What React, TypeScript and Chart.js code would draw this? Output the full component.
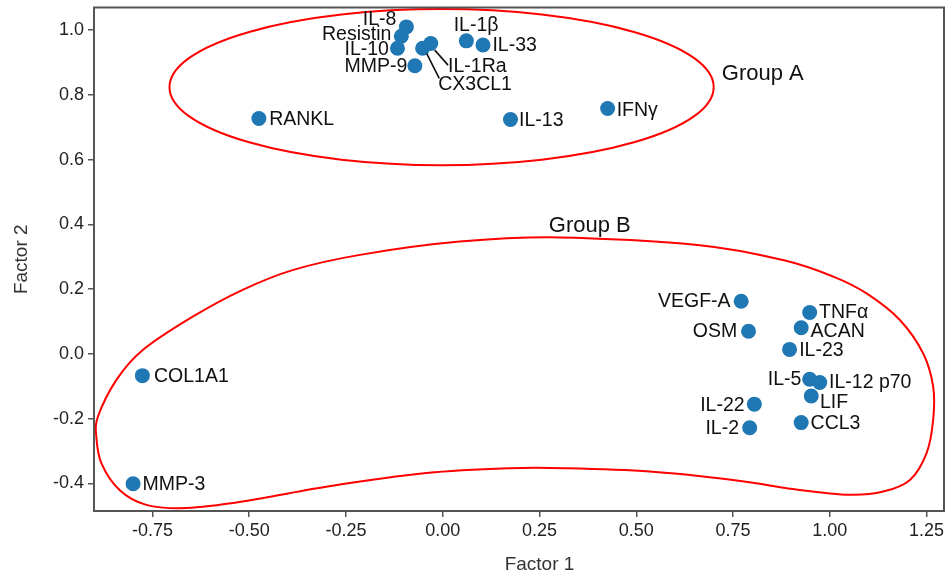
import React, { useEffect, useRef } from "react";
import { Chart, registerables } from "chart.js";
Chart.register(...registerables);

const markerNames = [
  "IL-8", "Resistin", "IL-10", "IL-1Ra", "CX3CL1", "MMP-9", "IL-1β", "IL-33",
  "RANKL", "IL-13", "IFNγ", "VEGF-A", "OSM", "TNFα", "ACAN", "IL-23", "IL-5",
  "IL-12 p70", "LIF", "IL-22", "IL-2", "CCL3", "COL1A1", "MMP-3",
];
const factor1 = [
  -0.094, -0.107, -0.117, -0.031, -0.052, -0.072, 0.061, 0.104,
  -0.475, 0.175, 0.426, 0.771, 0.79, 0.948, 0.926, 0.896, 0.948,
  0.974, 0.952, 0.805, 0.793, 0.926, -0.776, -0.8,
];
const factor2 = [
  1.01, 0.981, 0.944, 0.959, 0.944, 0.89, 0.967, 0.954,
  0.727, 0.724, 0.758, 0.163, 0.07, 0.128, 0.081, 0.014, -0.078,
  -0.088, -0.13, -0.155, -0.228, -0.212, -0.067, -0.401,
];
const xTicks = [-0.75, -0.5, -0.25, 0, 0.25, 0.5, 0.75, 1.0, 1.25];
const yTicks = [-0.4, -0.2, 0, 0.2, 0.4, 0.6, 0.8, 1.0];
const xTitle = "Factor 1";
const yTitle = "Factor 2";
const groupNames = ["Group A", "Group B"];

// Group outlines (data coordinates)
const groupAEllipse = { cx: -0.003, cy: 0.824, rx: 0.703, ry: 0.241 };
const groupBOutlineX = [
  -0.775, -0.646, -0.517, -0.388, -0.214, 0.044, 0.302, 0.664, 0.879, 1.009,
  1.095, 1.181, 1.241, 1.267, 1.267, 1.25, 1.207, 1.138, 1.052, 0.922, 0.75,
  0.535, 0.32, 0.173, -0.042, -0.301, -0.517, -0.662, -0.766, -0.835, -0.882,
  -0.895, -0.891, -0.843,
];
const groupBOutlineY = [
  0.012, 0.115, 0.198, 0.259, 0.306, 0.347, 0.36, 0.336, 0.29, 0.239,
  0.187, 0.105, 0.002, -0.101, -0.204, -0.306, -0.389, -0.425, -0.435, -0.42, -0.389,
  -0.363, -0.353, -0.353, -0.368, -0.41, -0.456, -0.476, -0.466, -0.42, -0.337,
  -0.255, -0.194, -0.08,
];

// label placement (pixel offsets from the dot centre) – style only
const labelPlacement: Record<string, [number, number, CanvasTextAlign]> = {
  "IL-8": [-10, -7, "right"],
  Resistin: [-10, -2, "right"],
  "IL-10": [-8.5, 1, "right"],
  "IL-1Ra": [17.3, 23.4, "left"],
  CX3CL1: [15.6, 36.7, "left"],
  "MMP-9": [-7.5, 1, "right"],
  "IL-1β": [-12.7, -15.7, "left"],
  "IL-33": [9.4, 1, "left"],
  RANKL: [10.3, 1, "left"],
  "IL-13": [8.6, 0.7, "left"],
  "IFNγ": [9, 2, "left"],
  "VEGF-A": [-10.6, 0, "right"],
  OSM: [-11.4, 0, "right"],
  "TNFα": [9.3, 0, "left"],
  ACAN: [9.4, 4.3, "left"],
  "IL-23": [9.6, 0.7, "left"],
  "IL-5": [-8.3, 0, "right"],
  "IL-12 p70": [9.3, 0.6, "left"],
  LIF: [8.7, 6.7, "left"],
  "IL-22": [-9.7, 1, "right"],
  "IL-2": [-10.7, 1.3, "right"],
  CCL3: [9.4, 0.6, "left"],
  COL1A1: [11.6, 1, "left"],
  "MMP-3": [9.4, 1, "left"],
};
const leaderLines: Record<string, [number, number, number, number]> = {
  "IL-1Ra": [4, 6.7, 17.3, 21.7],
  CX3CL1: [4, 5, 16.6, 30],
};
const groupLabelPos = [
  [0.721, 0.864],
  [0.274, 0.395],
];

const FONT = "'Liberation Sans', Arial, Helvetica, sans-serif";

const overlayPlugin = {
  id: "overlay",
  beforeDatasetsDraw(chart: any) {
    const { ctx, scales } = chart;
    const xs = scales.x, ys = scales.y;
    const px = (v: number) => xs.getPixelForValue(v);
    const py = (v: number) => ys.getPixelForValue(v);
    ctx.save();
    ctx.strokeStyle = "#ff0000";
    ctx.lineWidth = 2;
    const e = groupAEllipse;
    ctx.beginPath();
    ctx.ellipse(
      px(e.cx), py(e.cy),
      Math.abs(px(e.rx) - px(0)), Math.abs(py(e.ry) - py(0)),
      0, 0, Math.PI * 2
    );
    ctx.stroke();
    const pts = groupBOutlineX.map((x, i) => [px(x), py(groupBOutlineY[i])]);
    const n = pts.length;
    ctx.beginPath();
    ctx.moveTo(pts[0][0], pts[0][1]);
    for (let i = 0; i < n; i++) {
      const p0 = pts[(i - 1 + n) % n];
      const p1 = pts[i];
      const p2 = pts[(i + 1) % n];
      const p3 = pts[(i + 2) % n];
      ctx.bezierCurveTo(
        p1[0] + (p2[0] - p0[0]) / 6, p1[1] + (p2[1] - p0[1]) / 6,
        p2[0] - (p3[0] - p1[0]) / 6, p2[1] - (p3[1] - p1[1]) / 6,
        p2[0], p2[1]
      );
    }
    ctx.closePath();
    ctx.stroke();
    ctx.restore();
  },
  afterDatasetsDraw(chart: any) {
    const { ctx, scales } = chart;
    const meta = chart.getDatasetMeta(0);
    ctx.save();
    ctx.fillStyle = "#111";
    ctx.font = `19.5px ${FONT}`;
    ctx.textBaseline = "middle";
    markerNames.forEach((name, i) => {
      const el = meta.data[i];
      if (!el) return;
      const pl = labelPlacement[name] || [9, 0, "left"];
      ctx.textAlign = pl[2];
      ctx.fillText(name, el.x + pl[0], el.y + pl[1]);
      const ln = leaderLines[name];
      if (ln) {
        ctx.strokeStyle = "#111";
        ctx.lineWidth = 1.6;
        ctx.beginPath();
        ctx.moveTo(el.x + ln[0], el.y + ln[1]);
        ctx.lineTo(el.x + ln[2], el.y + ln[3]);
        ctx.stroke();
      }
    });
    ctx.font = `22px ${FONT}`;
    ctx.textAlign = "left";
    groupNames.forEach((g, i) => {
      ctx.fillText(
        g,
        scales.x.getPixelForValue(groupLabelPos[i][0]),
        scales.y.getPixelForValue(groupLabelPos[i][1])
      );
    });
    ctx.restore();
  },
  afterDraw(chart: any) {
    const { ctx, chartArea, scales } = chart;
    ctx.save();
    ctx.strokeStyle = "#555";
    ctx.lineWidth = 2;
    ctx.strokeRect(
      chartArea.left, chartArea.top,
      chartArea.right - chartArea.left, chartArea.bottom - chartArea.top
    );
    ctx.fillStyle = "#333";
    ctx.font = `19px ${FONT}`;
    ctx.textAlign = "center";
    ctx.textBaseline = "middle";
    ctx.fillText(xTitle, scales.x.getPixelForValue(0.25), 565);
    ctx.translate(22, (chartArea.top + chartArea.bottom) / 2);
    ctx.rotate(-Math.PI / 2);
    ctx.fillText(yTitle, 0, 0);
    ctx.restore();
  },
};

export default function App() {
  const ref = useRef<HTMLCanvasElement | null>(null);
  useEffect(() => {
    document.body.style.margin = "0";
    if (!ref.current) return;
    const chart = new Chart(ref.current, {
      type: "scatter",
      data: {
        datasets: [
          {
            data: factor1.map((x, i) => ({ x, y: factor2[i] })),
            pointRadius: 7.5,
            pointHoverRadius: 7.5,
            backgroundColor: "#1f77b4",
            borderWidth: 0,
          },
        ],
      },
      options: {
        animation: false,
        responsive: false,
        layout: { padding: { top: 7, right: 8, left: 0, bottom: 0 } },
        plugins: { legend: { display: false }, tooltip: { enabled: false } },
        scales: {
          x: {
            type: "linear",
            min: -0.901,
            max: 1.295,
            afterBuildTicks: (s: any) => {
              s.ticks = xTicks.map((v) => ({ value: v }));
            },
            afterFit: (s: any) => {
              s.height = 65;
              s.paddingLeft = 0;
              s.paddingRight = 0;
              s.paddingTop = 0;
              s.paddingBottom = 0;
            },
            grid: { drawOnChartArea: false, drawTicks: true, tickLength: 6, color: "#555", lineWidth: 1.5 },
            border: { display: false },
            ticks: {
              autoSkip: false,
              maxRotation: 0,
              padding: 3,
              color: "#222",
              font: { family: FONT, size: 18 },
              callback: (v: any) => Number(v).toFixed(2),
            },
          },
          y: {
            type: "linear",
            min: -0.485,
            max: 1.07,
            afterBuildTicks: (s: any) => {
              s.ticks = yTicks.map((v) => ({ value: v }));
            },
            afterFit: (s: any) => {
              s.width = 94;
              s.paddingLeft = 0;
              s.paddingRight = 0;
              s.paddingTop = 0;
              s.paddingBottom = 0;
            },
            grid: { drawOnChartArea: false, drawTicks: true, tickLength: 6, color: "#555", lineWidth: 1.5 },
            border: { display: false },
            ticks: {
              autoSkip: false,
              padding: 4,
              color: "#222",
              font: { family: FONT, size: 18 },
              callback: (v: any) => Number(v).toFixed(1),
            },
          },
        },
      },
      plugins: [overlayPlugin],
    });
    return () => chart.destroy();
  }, []);
  return (
    <div style={{ width: 952, height: 576, background: "#fff" }}>
      <canvas ref={ref} width={952} height={576} />
    </div>
  );
}
